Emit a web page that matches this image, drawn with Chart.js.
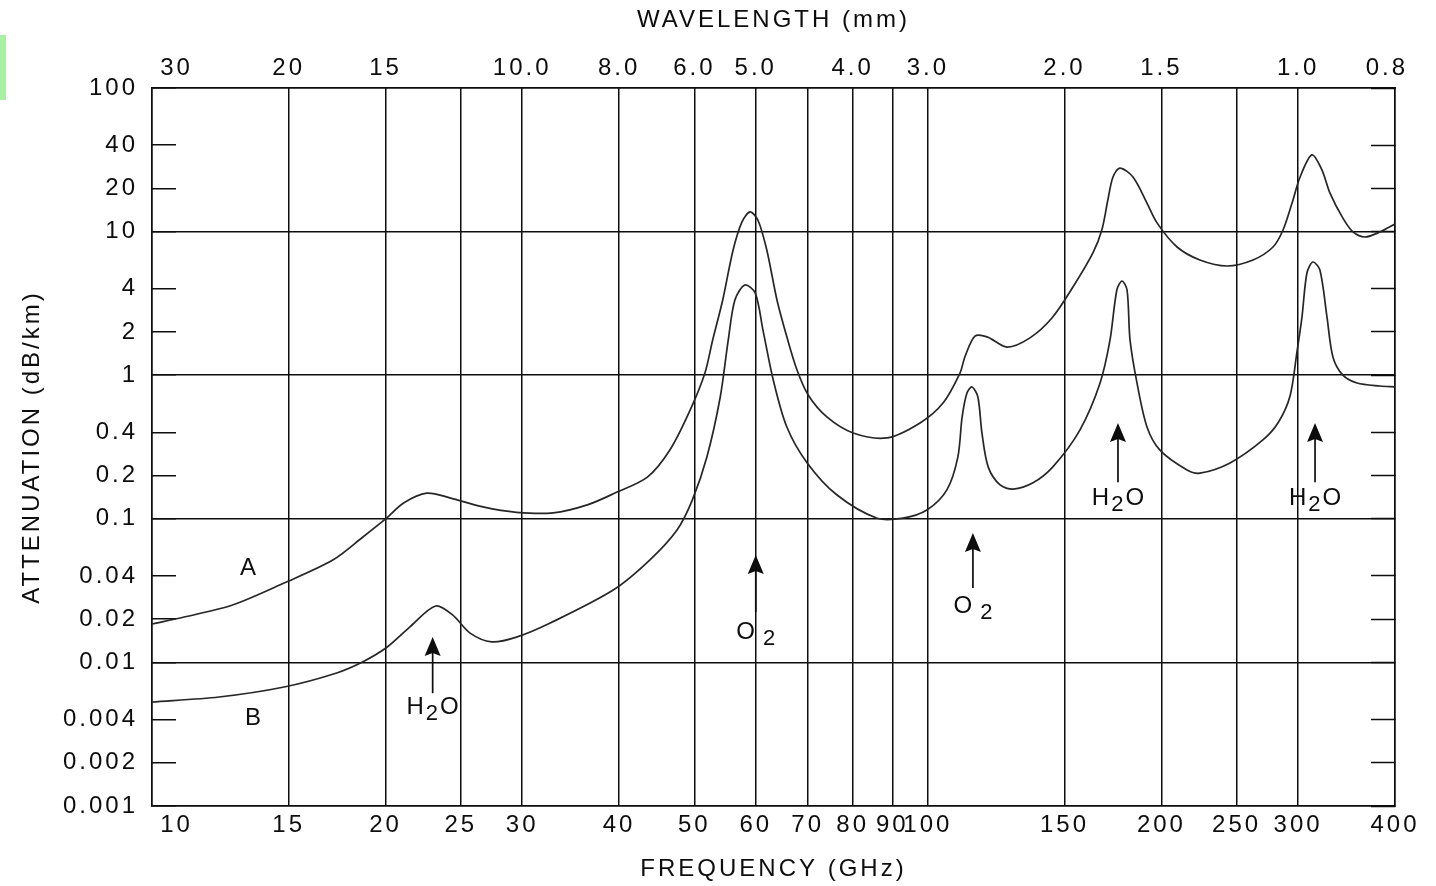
<!DOCTYPE html>
<html>
<head>
<meta charset="utf-8">
<title>Atmospheric attenuation vs frequency</title>
<script src="https://cdn.jsdelivr.net/npm/chart.js@4.4.1/dist/chart.umd.min.js"></script>
<style>
  html, body { margin: 0; padding: 0; background: #fff; }
  #wrap { position: relative; width: 1436px; height: 886px; }
  #mark { position: absolute; left: 0; top: 35px; width: 6px; height: 65px; background: #a8f0a2; }
</style>
</head>
<body>
<div id="wrap">
  <canvas id="chart" width="1436" height="886"></canvas>
  <div id="mark"></div>
</div>
<script>
// Curve A (upper) - frequency in GHz, attenuation in dB/km
const freqA = [10, 11.0, 12.7, 14.8, 17.1, 18.7, 20.0, 21.1, 22.6, 24.2,
  26.7, 29.5, 32.9, 36.4, 39.5, 43.5, 46.5, 49.4, 51.6, 52.8,
  54.4, 56.1, 57.6, 59.0, 60.4, 62.0, 63.9, 65.8, 67.8, 70.1,
  74.1, 80.1, 88.6, 97.7, 104.6, 110.0, 111.6, 115.0, 119.2, 126.5,
  135.4, 144.5, 153.8, 163.2, 167.6, 170.6, 173.2, 176.8, 183.8, 191.6,
  197.4, 209.5, 224.2, 243.0, 262.4, 278.5, 287.0, 294.7, 301.8, 312.6,
  322.0, 329.7, 342.7, 353.1, 365.9, 382.6, 400];
const attA = [0.0185, 0.0207, 0.0251, 0.0357, 0.0516, 0.0747, 0.0998, 0.129, 0.151, 0.140,
  0.121, 0.111, 0.110, 0.125, 0.151, 0.195, 0.301, 0.573, 1.035, 1.76,
  3.34, 7.45, 11.7, 13.7, 12.0, 7.45, 3.34, 1.85, 1.09, 0.728,
  0.512, 0.396, 0.366, 0.465, 0.640, 1.035, 1.34, 1.87, 1.85, 1.57,
  1.82, 2.50, 4.11, 7.10, 10.3, 16.6, 24.0, 27.7, 24.0, 15.8,
  11.5, 7.81, 6.34, 5.76, 6.34, 7.81, 10.3, 15.8, 24.0, 34.2,
  26.9, 18.6, 12.4, 9.94, 9.17, 9.94, 11.3];

// Curve B (lower)
const freqB = [10, 12.2, 14.8, 17.3, 18.7, 20.1, 21.5, 23.2, 24.4, 25.7,
  27.4, 29.5, 32.6, 39.3, 43.8, 47.5, 49.7, 51.9, 54.0, 55.3,
  56.4, 58.1, 59.9, 61.3, 63.2, 65.8, 69.9, 76.3, 86.0, 92.9,
  99.7, 105.8, 109.3, 110.7, 112.3, 114.0, 116.0, 117.4, 119.6, 123.9,
  128.8, 136.6, 144.9, 157.0, 166.7, 171.7, 175.2, 177.9, 180.6, 182.2,
  186.0, 191.6, 199.1, 215.8, 224.2, 245.2, 270.3, 283.0, 293.0, 299.0, 303.5,
  308.0, 313.5, 320.1, 326.9, 332.7, 342.7, 357.3, 382.6, 400];
const attB = [0.0053, 0.00574, 0.00674, 0.00844, 0.0101, 0.0128, 0.0177, 0.0247, 0.0214, 0.0160,
  0.0139, 0.0150, 0.0188, 0.0319, 0.0516, 0.0836, 0.135, 0.269, 0.705, 1.76,
  3.34, 4.25, 3.74, 2.06, 0.926, 0.436, 0.245, 0.147, 0.101, 0.101,
  0.115, 0.159, 0.269, 0.512, 0.752, 0.828, 0.705, 0.396, 0.230, 0.172,
  0.161, 0.178, 0.230, 0.415, 0.883, 1.76, 3.92, 4.53, 3.92, 1.76,
  0.883, 0.436, 0.301, 0.219, 0.208, 0.245, 0.354, 0.47, 0.72, 1.45, 2.54,
  5.15, 6.14, 5.40, 2.54, 1.34, 1.00, 0.883, 0.841, 0.83];

// Axis ticks
const freqTicks = [10, 15, 20, 25, 30, 40, 50, 60, 70, 80, 90, 100, 150, 200, 250, 300, 400];
const freqLabels = ['10', '15', '20', '25', '30', '40', '50', '60', '70', '80', '90', '100', '150', '200', '250', '300', '400'];
const wlTicks = [10, 15, 20, 30, 40, 50, 60, 80, 100, 150, 200, 300, 400];
const wlLabels = ['30', '20', '15', '10.0', '8.0', '6.0', '5.0', '4.0', '3.0', '2.0', '1.5', '1.0', '0.8'];
const attTicks = [0.001, 0.002, 0.004, 0.01, 0.02, 0.04, 0.1, 0.2, 0.4, 1, 2, 4, 10, 20, 40, 100];
const attLabels = ['0.001', '0.002', '0.004', '0.01', '0.02', '0.04', '0.1', '0.2', '0.4', '1', '2', '4', '10', '20', '40', '100'];

// Absorption line markers (arrows)
const lineFreq = [23.0, 60, 114.3, 175.8, 315.5];
const lineTip = [0.0150, 0.056, 0.0796, 0.465, 0.465];
const lineTail = [0.0061, 0.0224, 0.033, 0.180, 0.180];
const lineText = [0.0049, 0.0163, 0.0247, 0.1396, 0.1396];
const lineGas = ['H2O', 'O2', 'O2', 'H2O', 'H2O'];

// Curve names
const curveNames = ['A', 'B'];
const curveNameFreq = [13.3, 13.5];
const curveNameAtt = [0.0454, 0.0041];

const ink = '#0d0d0d';
const family = "'Liberation Sans', Arial, sans-serif";
const font = { family: family, size: 24 };
const figSpace = '\u2007\u2007\u2007';

const isDecade = v => v > 0 && Math.abs(Math.log10(v) - Math.round(Math.log10(v))) < 1e-6;

// chemical formula with lowered digits
function drawFormula(ctx, text, cx, cy) {
  ctx.letterSpacing = '0px';
  const parts = text.split('').map(ch => ({ ch: ch, sub: /\d/.test(ch) }));
  const gap = text === 'O2' ? 8 : 2;
  let w = 0;
  parts.forEach((p, i) => {
    ctx.font = (p.sub ? '22px ' : '24px ') + family;
    p.w = ctx.measureText(p.ch).width + (i < parts.length - 1 ? gap : 0);
    w += p.w;
  });
  let xx = cx - w / 2;
  ctx.textAlign = 'left';
  ctx.textBaseline = 'middle';
  parts.forEach(p => {
    ctx.font = (p.sub ? '22px ' : '24px ') + family;
    ctx.fillText(p.ch, xx, cy + (p.sub ? 7 : 0));
    xx += p.w;
  });
}

// wide lettering like the original plot
const spacing = {
  id: 'spacing',
  beforeUpdate(chart) { chart.ctx.letterSpacing = '3px'; },
  beforeLayout(chart) { chart.ctx.letterSpacing = '3px'; },
  beforeDraw(chart) { chart.ctx.letterSpacing = '3px'; }
};

const notes = {
  id: 'notes',
  afterDatasetsDraw(chart) {
    const { ctx, scales: { x, y } } = chart;
    ctx.save();
    ctx.strokeStyle = ink;
    ctx.fillStyle = ink;
    ctx.lineWidth = 1.7;
    lineFreq.forEach((f, i) => {
      const px = x.getPixelForValue(f);
      const tip = y.getPixelForValue(lineTip[i]);
      const tail = y.getPixelForValue(lineTail[i]);
      ctx.beginPath();
      ctx.moveTo(px, tail);
      ctx.lineTo(px, tip + 12);
      ctx.stroke();
      ctx.beginPath();
      ctx.moveTo(px, tip);
      ctx.lineTo(px - 8, tip + 19);
      ctx.lineTo(px, tip + 16);
      ctx.lineTo(px + 8, tip + 19);
      ctx.closePath();
      ctx.fill();
      drawFormula(ctx, lineGas[i], px, y.getPixelForValue(lineText[i]));
    });
    curveNames.forEach((n, i) => {
      drawFormula(ctx, n, x.getPixelForValue(curveNameFreq[i]), y.getPixelForValue(curveNameAtt[i]));
    });
    ctx.restore();
  }
};

const curveStyle = {
  borderColor: '#262626',
  borderWidth: 1.7,
  pointRadius: 0,
  fill: false,
  tension: 0.3
};

const ctx = document.getElementById('chart').getContext('2d');
new Chart(ctx, {
  type: 'line',
  data: {
    datasets: [
      Object.assign({ label: 'A', data: freqA.map((f, i) => ({ x: f, y: attA[i] })) }, curveStyle),
      Object.assign({ label: 'B', data: freqB.map((f, i) => ({ x: f, y: attB[i] })) }, curveStyle)
    ]
  },
  options: {
    responsive: false,
    animation: false,
    devicePixelRatio: 1,
    layout: { padding: 0 },
    plugins: { legend: { display: false }, tooltip: { enabled: false } },
    scales: {
      x: {
        type: 'logarithmic',
        position: 'bottom',
        min: 10,
        max: 400,
        afterBuildTicks: s => { s.ticks = freqTicks.map(v => ({ value: v })); },
        afterFit: s => { s.height = 80; },
        grid: { color: ink, lineWidth: 1.5, drawTicks: false },
        border: { display: true, color: ink, width: 1.5 },
        ticks: {
          autoSkip: false, maxRotation: 0, minRotation: 0, padding: 5, color: ink, font: font,
          callback: (v, i) => i === 0 ? figSpace + freqLabels[i] : freqLabels[i]
        },
        title: { display: true, text: 'FREQUENCY (GHz)', color: ink, font: font, padding: { top: 0, bottom: 2 } }
      },
      xTop: {
        type: 'logarithmic',
        position: 'top',
        min: 10,
        max: 400,
        afterBuildTicks: s => { s.ticks = wlTicks.map(v => ({ value: v })); },
        afterFit: s => { s.height = 88; },
        grid: { drawOnChartArea: false, drawTicks: false },
        border: { display: true, color: ink, width: 1.5 },
        ticks: {
          autoSkip: false, maxRotation: 0, minRotation: 0, padding: 5, color: ink, font: font,
          callback: (v, i) => {
            if (i === 0) return figSpace + wlLabels[i];
            if (i === wlLabels.length - 1) return wlLabels[i] + '\u2007';
            return wlLabels[i];
          }
        },
        title: { display: true, text: 'WAVELENGTH (mm)', color: ink, font: font, padding: { top: 6, bottom: 0 } }
      },
      y: {
        type: 'logarithmic',
        position: 'left',
        min: 0.001,
        max: 100,
        afterBuildTicks: s => { s.ticks = attTicks.map(v => ({ value: v })); },
        afterFit: s => { s.width = 152; },
        grid: {
          color: c => isDecade(c.tick && c.tick.value) ? ink : 'rgba(0,0,0,0)',
          lineWidth: 1.5,
          tickColor: ink,
          tickWidth: 1.5,
          tickLength: -24
        },
        border: { display: true, color: ink, width: 1.5 },
        ticks: { autoSkip: false, padding: 38, color: ink, font: font, callback: (v, i) => attLabels[i] },
        title: { display: true, text: 'ATTENUATION (dB/km)', color: ink, font: font, padding: { top: 18, bottom: 0 } }
      },
      yRight: {
        type: 'logarithmic',
        position: 'right',
        min: 0.001,
        max: 100,
        afterBuildTicks: s => { s.ticks = attTicks.map(v => ({ value: v })); },
        afterFit: s => { s.width = 41; },
        grid: { drawOnChartArea: false, tickColor: ink, tickWidth: 1.5, tickLength: -24 },
        border: { display: true, color: ink, width: 1.5 },
        ticks: { display: false, autoSkip: false }
      }
    }
  },
  plugins: [spacing, notes]
});
</script>
</body>
</html>
